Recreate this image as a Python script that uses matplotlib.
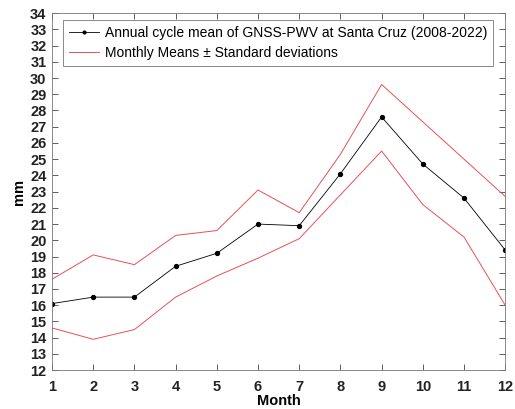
import numpy as np
import matplotlib
matplotlib.use("Agg")
import matplotlib.pyplot as plt

# --- Data ---
months = [1, 2, 3, 4, 5, 6, 7, 8, 9, 10, 11, 12]
pwv_mean = [16.1, 16.5, 16.5, 18.4, 19.2, 21.0, 20.9, 24.1, 27.6, 24.7, 22.6, 19.4]
pwv_upper = [17.6, 19.1, 18.5, 20.3, 20.6, 23.1, 21.7, 25.3, 29.6, 27.3, 25.0, 22.7]
pwv_lower = [14.6, 13.9, 14.5, 16.5, 17.8, 18.9, 20.1, 22.8, 25.5, 22.2, 20.2, 16.0]

plt.rcParams["font.family"] = ["Liberation Sans", "DejaVu Sans"]

fig = plt.figure(figsize=(5.15, 4.09), dpi=100)
ax = fig.add_axes([0.101, 0.095, 0.880, 0.873])

ax.plot(months, pwv_mean, color="black", linewidth=0.6, marker="o", markersize=2.8,
        label="Annual cycle mean of GNSS-PWV at Santa Cruz (2008-2022)")
ax.plot(months, pwv_upper, color="#e85058", linewidth=0.7,
        label="Monthly Means \u00b1 Standard deviations")
ax.plot(months, pwv_lower, color="#e85058", linewidth=0.7)

ax.set_xlim(1, 12)
ax.set_ylim(12, 34)
ax.set_xticks(months)
ax.set_yticks(np.arange(12, 35, 1))
ax.tick_params(direction="in", top=True, right=True, length=4, width=0.6,
               colors="#444444", labelcolor="#222222")
ax.tick_params(axis="x", pad=7)
ax.tick_params(axis="y", pad=4)
for lab in ax.get_xticklabels() + ax.get_yticklabels():
    lab.set_fontweight("bold")
    lab.set_fontsize(10.5)
for sp in ax.spines.values():
    sp.set_color("#777777")
    sp.set_linewidth(0.6)

ax.set_xlabel("Month", fontsize=10.5, fontweight="bold", labelpad=0)
ax.set_ylabel("mm", fontsize=10.5, fontweight="bold", labelpad=3)

leg = ax.legend(loc="upper left", bbox_to_anchor=(0.025, 0.98), fontsize=10,
                frameon=True, fancybox=False, handlelength=2.2,
                borderaxespad=0, labelspacing=0.45, handletextpad=0.4,
                borderpad=0.4)
leg.get_frame().set_edgecolor("#555555")
leg.get_frame().set_linewidth(0.6)
leg.legend_handles[0].set_markersize(2)

fig.savefig("out.png", dpi=100)
